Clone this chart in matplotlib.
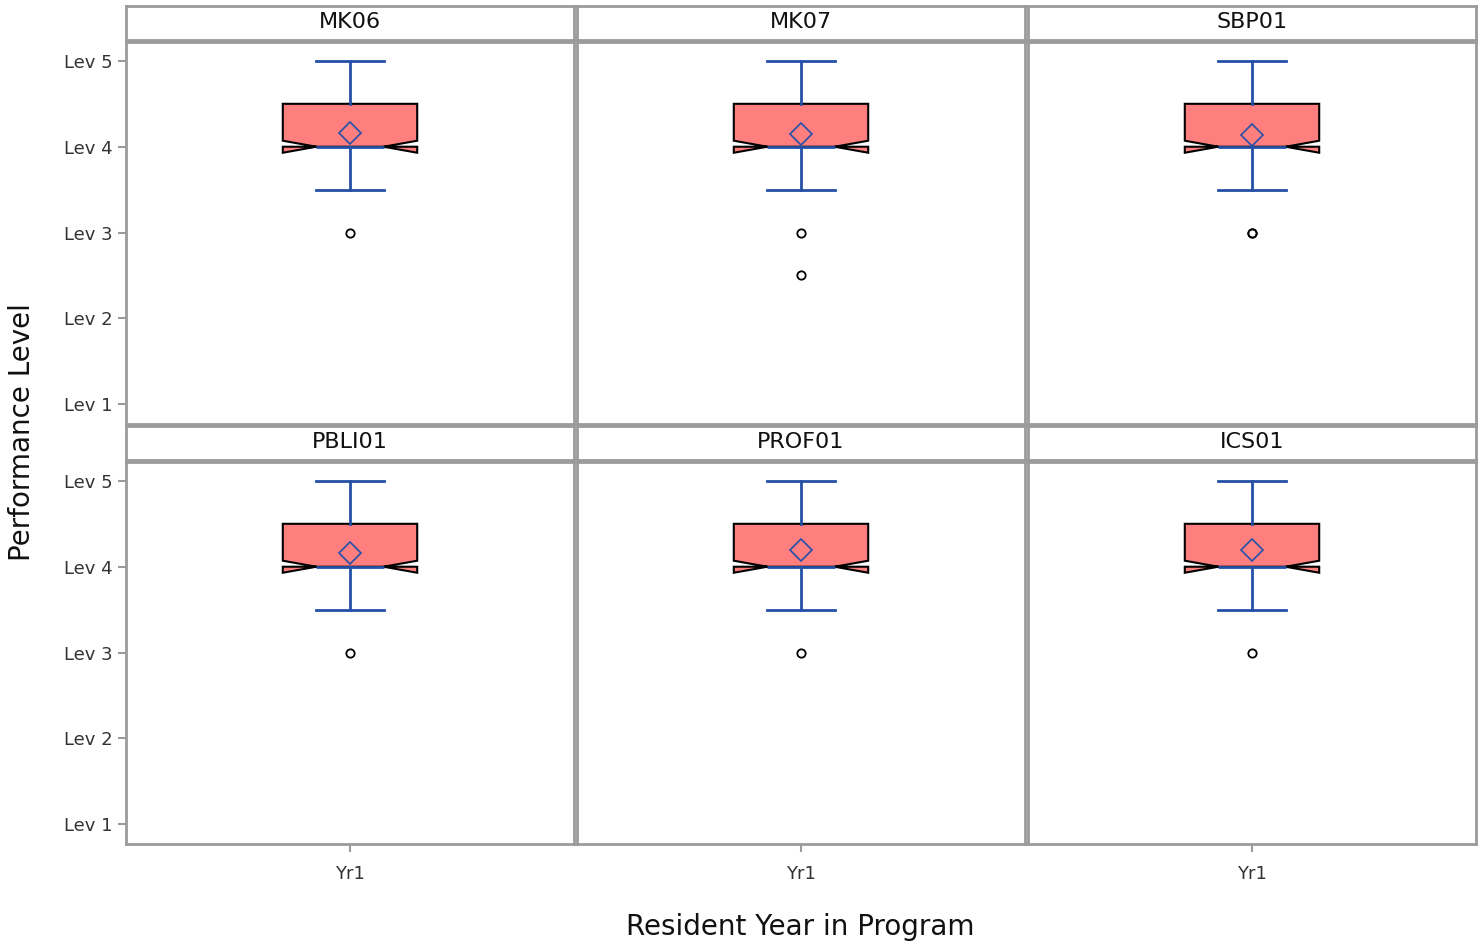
import numpy as np
import matplotlib.pyplot as plt

# --- data ---
panels = ["MK06", "MK07", "SBP01", "PBLI01", "PROF01", "ICS01"]
q1 = [4.0, 4.0, 4.0, 4.0, 4.0, 4.0]
med = [4.0, 4.0, 4.0, 4.0, 4.0, 4.0]
q3 = [4.5, 4.5, 4.5, 4.5, 4.5, 4.5]
wlo = [3.5, 3.5, 3.5, 3.5, 3.5, 3.5]
whi = [5.0, 5.0, 5.0, 5.0, 5.0, 5.0]
means = [4.16, 4.15, 4.14, 4.16, 4.19, 4.20]
notch_lo = [3.93, 3.93, 3.93, 3.93, 3.93, 3.93]
notch_hi = [4.07, 4.07, 4.07, 4.07, 4.07, 4.07]
outliers = [[3.0], [3.0, 2.5], [3.0, 3.0], [3.0], [3.0], [3.0]]
ytick_vals = [1, 2, 3, 4, 5]
ytick_labels = ["Lev 1", "Lev 2", "Lev 3", "Lev 4", "Lev 5"]
xcat = "Yr1"

W, H = 1484, 948
fig = plt.figure(figsize=(W / 100, H / 100), dpi=100)

gray = "#9b9b9b"
blue = "#2450a8"
col_x = [126, 577, 1028]
col_w = 448
rows = [(6, 40, 42, 424), (426, 460, 462, 844)]


def fax(x, y0, w, y1):
    return fig.add_axes([x / W, 1 - y1 / H, w / W, (y1 - y0) / H])


for i, name in enumerate(panels):
    r, c = divmod(i, 3)
    hy0, hy1, py0, py1 = rows[r]
    x = col_x[c]

    # header strip
    hax = fax(x, hy0, col_w, hy1)
    hax.set_xticks([])
    hax.set_yticks([])
    for s in hax.spines.values():
        s.set_color(gray)
        s.set_linewidth(2)
    hax.text(0.5, 0.52, name, ha="center", va="center", fontsize=16,
             color="#111111", transform=hax.transAxes)

    ax = fax(x, py0, col_w, py1)
    stats = [dict(med=med[i], q1=q1[i], q3=q3[i], whislo=wlo[i], whishi=whi[i],
                  mean=means[i], fliers=outliers[i], cilo=notch_lo[i],
                  cihi=notch_hi[i])]
    ax.bxp(stats, positions=[1], widths=0.30, shownotches=True, showmeans=True,
           patch_artist=True,
           boxprops=dict(facecolor="#ff7f7f", edgecolor="black", linewidth=1.5),
           medianprops=dict(color=blue, linewidth=2),
           whiskerprops=dict(color=blue, linewidth=2),
           capprops=dict(color=blue, linewidth=2),
           meanprops=dict(marker="D", markerfacecolor="none",
                          markeredgecolor=blue, markersize=11,
                          markeredgewidth=1.2),
           flierprops=dict(marker="o", markerfacecolor="none",
                           markeredgecolor="black", markersize=6,
                           markeredgewidth=1.3))
    ax.set_xlim(0.5, 1.5)
    ax.set_ylim(0.77, 5.22)
    for s in ax.spines.values():
        s.set_color(gray)
        s.set_linewidth(2)
    ax.tick_params(colors=gray, labelcolor="#333333", length=6, width=1.5,
                   labelsize=13)
    ax.set_yticks(ytick_vals)
    if c == 0:
        ax.set_yticklabels(ytick_labels)
    else:
        ax.tick_params(axis="y", left=False, labelleft=False)
    ax.set_xticks([1])
    if r == 1:
        ax.set_xticklabels([xcat])
        ax.tick_params(axis="x", pad=9)
    else:
        ax.tick_params(axis="x", bottom=False, labelbottom=False)

fig.text(22 / W, 1 - 432 / H, "Performance Level", rotation=90, ha="center",
         va="center", fontsize=20, color="#111111")
fig.text(800 / W, 1 - 927 / H, "Resident Year in Program", ha="center",
         va="center", fontsize=20, color="#111111")

fig.savefig("out.png", dpi=100)
